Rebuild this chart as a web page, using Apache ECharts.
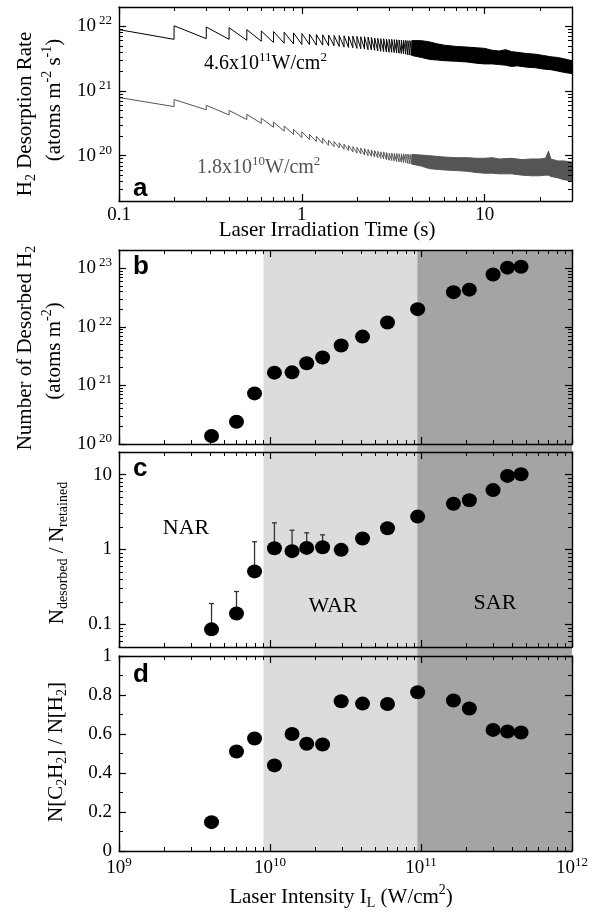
<!DOCTYPE html>
<html>
<head>
<meta charset="utf-8">
<script src="https://cdn.jsdelivr.net/npm/echarts@6.0.0/dist/echarts.min.js"></script>
<style>
html,body{margin:0;padding:0;background:#fff;}
#chart{width:605px;height:913px;}
</style>
</head>
<body>
<div id="chart"></div>
<script>
// ================= DATA =================
// Panel a: H2 desorption rate vs laser irradiation time.
// Rates are stored as log10(atoms m^-2 s^-1).
const aStartTime = 0.1;
const pulseTimes = [0.2,0.3,0.4,0.5,0.6,0.7,0.8,0.9,1.0,1.1,1.2,1.3,1.4,1.5,1.6,1.7,1.8,1.9,2.0,2.1,2.2,2.3,2.4,2.5,2.6,2.7,2.8,2.9,3.0,3.1,3.2,3.3,3.4,3.5,3.6,3.7,3.8,3.9,4.0];

// 4.6x10^11 W/cm^2 (black)
const blackStartLog = 21.95;
const blackTroughLog = [21.80,21.81,21.80,21.785,21.77,21.75,21.74,21.73,21.72,21.72,21.71,21.71,21.70,21.70,21.69,21.68,21.675,21.67,21.66,21.655,21.65,21.64,21.635,21.63,21.62,21.615,21.61,21.605,21.60,21.60,21.595,21.59,21.585,21.58,21.575,21.57,21.56,21.555,21.55];
const blackPeakLog   = [22.01,21.99,21.98,21.95,21.93,21.92,21.91,21.90,21.89,21.88,21.875,21.87,21.865,21.86,21.86,21.855,21.85,21.85,21.845,21.84,21.84,21.835,21.83,21.82,21.815,21.81,21.81,21.805,21.80,21.80,21.795,21.795,21.79,21.79,21.785,21.785,21.78,21.78,21.78];
const blackBandTimes  = [4.0,4.5,5.0,5.5,6.0,7.0,8.0,9.0,10,11,12,13,14,15,17,19,21,23,25,27,30];
const blackBandTopLog = [21.78,21.78,21.76,21.73,21.71,21.69,21.68,21.67,21.66,21.63,21.62,21.64,21.61,21.60,21.58,21.57,21.55,21.53,21.52,21.50,21.47];
const blackBandBotLog = [21.55,21.52,21.49,21.48,21.47,21.46,21.45,21.43,21.42,21.42,21.41,21.40,21.38,21.39,21.37,21.36,21.34,21.33,21.31,21.29,21.27];

// 1.8x10^10 W/cm^2 (gray)
const grayStartLog = 20.90;
const grayTroughLog = [20.76,20.71,20.63,20.56,20.50,20.44,20.38,20.33,20.28,20.25,20.22,20.19,20.16,20.14,20.12,20.10,20.08,20.06,20.04,20.03,20.01,20.00,19.99,19.98,19.97,19.96,19.95,19.94,19.93,19.925,19.92,19.91,19.905,19.90,19.895,19.89,19.88,19.875,19.87];
const grayPeakLog   = [20.87,20.78,20.70,20.64,20.58,20.52,20.46,20.41,20.37,20.33,20.30,20.27,20.24,20.22,20.20,20.18,20.16,20.14,20.13,20.12,20.11,20.10,20.09,20.08,20.07,20.06,20.06,20.05,20.04,20.04,20.035,20.035,20.03,20.03,20.03,20.025,20.025,20.02,20.02];
const grayBandTimes  = [4.0,4.5,5.0,6.0,7.0,8.0,9.0,10,11,12,14,16,18,20,21.5,22.3,23,25,27,30];
const grayBandTopLog = [20.02,20.01,20.00,19.98,19.97,19.97,19.96,19.96,19.97,19.95,19.96,19.94,19.95,19.95,19.96,20.07,19.95,19.92,19.92,19.90];
const grayBandBotLog = [19.87,19.84,19.80,19.78,19.77,19.76,19.74,19.73,19.73,19.72,19.72,19.70,19.69,19.69,19.70,19.70,19.68,19.66,19.63,19.61];

// Panels b-d: laser intensity (W/cm^2)
const intensity = [4.1e9,6.0e9,7.9e9,1.07e10,1.4e10,1.75e10,2.23e10,2.96e10,4.1e10,6.0e10,9.5e10,1.64e11,2.09e11,3.0e11,3.74e11,4.6e11];
// b: number of desorbed H2 (atoms m^-2)
const desorbedH2 = [1.37e20,2.4e20,7.3e20,1.65e21,1.67e21,2.39e21,3.0e21,4.8e21,6.8e21,1.18e22,2.0e22,3.9e22,4.3e22,7.8e22,1.02e23,1.06e23];
// c: N_desorbed / N_retained, with upper error bar ends
const ratioDesRet = [0.086,0.14,0.51,1.04,0.95,1.05,1.07,0.99,1.40,1.92,2.75,4.07,4.55,6.2,9.6,10.1];
const ratioErrTop = [0.19,0.275,1.27,2.27,1.81,1.67,1.57,null,null,null,null,null,null,null,null,null];
// d: N[C2H2] / N[H2]
const ratioC2H2 = [0.148,0.51,0.577,0.439,0.60,0.55,0.546,0.768,0.756,0.754,0.814,0.772,0.731,0.621,0.613,0.608];
// regime boundaries (W/cm^2): WAR and SAR
const regimeRanges = [[9.05e9, 9.45e10], [9.45e10, 1e12]];

// ================= STYLE / HELPERS =================
const SERIF = 'Liberation Serif';
const SANS = 'Liberation Sans';
const shadeColors = ['#dcdcdc', '#a4a4a4'];
const L = Math.log10;

function logMinor(lo, hi) {
  const out = [];
  for (let n = Math.floor(lo) - 1; n <= Math.ceil(hi); n++) {
    for (let k = 2; k <= 9; k++) {
      const v = n + L(k);
      if (v > lo + 1e-6 && v < hi - 1e-6) out.push(v);
    }
  }
  return out;
}
function ints(lo, hi) {
  const o = [];
  for (let n = Math.ceil(lo - 1e-9); n <= Math.floor(hi + 1e-9); n++) o.push(n);
  return o;
}

const xAxes = [], yAxes = [];
function addAxes(list, grid, positions, min, max, major, minor, labelSpec) {
  const first = list.length;
  positions.forEach((pos, pi) => {
    list.push({
      type: 'value', gridIndex: grid, position: pos, min: min, max: max, z: 5,
      axisLine: {show: true, onZero: false, lineStyle: {color: '#000', width: 1.4}},
      axisTick: {show: true, inside: true, length: 7, customValues: major, lineStyle: {color: '#000', width: 1.2}},
      axisLabel: (pi === 0 && labelSpec) ? Object.assign({show: true, customValues: major}, labelSpec) : {show: false},
      splitLine: {show: false}
    });
    list.push({
      type: 'value', gridIndex: grid, position: pos, min: min, max: max, z: 5,
      axisLine: {show: false, onZero: false},
      axisTick: {show: minor.length > 0, inside: true, length: 4, customValues: minor, lineStyle: {color: '#000', width: 1}},
      axisLabel: {show: false},
      splitLine: {show: false}
    });
  });
  return first;
}

const powRichY = {
  b: {fontFamily: SERIF, fontSize: 19, color: '#000', lineHeight: 24, verticalAlign: 'middle'},
  s: {fontFamily: SERIF, fontSize: 13, color: '#000', lineHeight: 12, verticalAlign: 'top', padding: [0, 0, 0, 3]}
};
const powRichX = {
  b: {fontFamily: SERIF, fontSize: 19, color: '#000', lineHeight: 24, verticalAlign: 'middle'},
  s: {fontFamily: SERIF, fontSize: 13, color: '#000', lineHeight: 12, verticalAlign: 'top'}
};
const powFmt = v => '{b|10}{s|' + Math.round(v) + '}';
const plainLbl = {fontFamily: SERIF, fontSize: 19, color: '#000'};

// ---- grids ----
const GL = 119, GW = 453;
const grids = [
  {left: GL, width: GW, top: 7, height: 194},
  {left: GL, width: GW, top: 250, height: 194},
  {left: GL, width: GW, top: 452, height: 195},
  {left: GL, width: GW, top: 656, height: 195},
  {left: GL, width: GW, top: 250, height: 601}
].map(g => Object.assign({outerBoundsMode: 'none', containLabel: false, show: false}, g));

// Panel a axes
const aX = [-1, L(30)], aY = [19.3, 22.3];
const xa = addAxes(xAxes, 0, ['bottom', 'top'], aX[0], aX[1], ints(aX[0], aX[1]), logMinor(aX[0], aX[1]),
  Object.assign({margin: 5, formatter: v => ({'-1': '0.1', '0': '1', '1': '10'})[String(Math.round(v))]}, plainLbl));
const ya = addAxes(yAxes, 0, ['left', 'right'], aY[0], aY[1], ints(aY[0], aY[1]), logMinor(aY[0], aY[1]),
  {margin: 7, formatter: powFmt, rich: powRichY});

// Panels b-d x axes
const iX = [9, 12];
const xb = addAxes(xAxes, 1, ['bottom', 'top'], iX[0], iX[1], ints(9, 12), logMinor(9, 12), null);
const xc = addAxes(xAxes, 2, ['bottom', 'top'], iX[0], iX[1], ints(9, 12), logMinor(9, 12), null);
const xd = addAxes(xAxes, 3, ['bottom', 'top'], iX[0], iX[1], ints(9, 12), logMinor(9, 12),
  {margin: 5, formatter: powFmt, rich: powRichX});

const bY = [20, 23.31];
const yb = addAxes(yAxes, 1, ['left', 'right'], bY[0], bY[1], ints(bY[0], bY[1]), logMinor(bY[0], bY[1]),
  {margin: 7, formatter: powFmt, rich: powRichY});
const cY = [L(0.05), L(20)];
const yc = addAxes(yAxes, 2, ['left', 'right'], cY[0], cY[1], ints(cY[0], cY[1]), logMinor(cY[0], cY[1]),
  Object.assign({margin: 7, formatter: v => ({'-1': '0.1', '0': '1', '1': '10'})[String(Math.round(v))]}, plainLbl));
const yd = addAxes(yAxes, 3, ['left', 'right'], 0, 1, [0, 0.2, 0.4, 0.6, 0.8, 1], [0.1, 0.3, 0.5, 0.7, 0.9],
  Object.assign({margin: 7, formatter: v => String(Math.round(v * 10) / 10)}, plainLbl));

// shading grid axes (hidden)
const xs = xAxes.length;
xAxes.push({type: 'value', gridIndex: 4, min: 9, max: 12, show: false, axisLine: {onZero: false}});
const ys = yAxes.length;
yAxes.push({type: 'value', gridIndex: 4, min: 0, max: 1, show: false, axisLine: {onZero: false}});

// ---- series ----
function teeth(startLog, troughs, peaks) {
  const d = [[L(aStartTime), startLog]];
  pulseTimes.forEach((t, i) => {
    d.push([L(t), troughs[i]]);
    d.push([L(t), peaks[i]]);
  });
  return d;
}
function bandSeries(times, top, bot, color) {
  const pts = times.map((t, i) => [L(t), top[i], bot[i]]);
  return {
    type: 'custom', xAxisIndex: xa, yAxisIndex: ya, data: pts, encode: {x: 0, y: [1, 2]},
    z: 3, silent: true, clip: true,
    renderItem: (params, api) => {
      if (params.dataIndex !== 0) return null;
      const up = pts.map(p => api.coord([p[0], p[1]]));
      const dn = pts.map(p => api.coord([p[0], p[2]])).reverse();
      return {type: 'polygon', shape: {points: up.concat(dn)}, style: {fill: color, stroke: color, lineWidth: 1}};
    }
  };
}
const scatterStyle = {
  type: 'scatter', symbol: 'circle', symbolSize: [15, 14], itemStyle: {color: '#000', opacity: 1}, z: 4, silent: true
};

const series = [
  // regime shading
  {
    type: 'custom', xAxisIndex: xs, yAxisIndex: ys, z: 0, silent: true,
    data: regimeRanges.map(r => [L(r[0]), L(r[1]), 0, 1]),
    encode: {x: [0, 1], y: [2, 3]},
    renderItem: (params, api) => {
      const a = api.coord([api.value(0), api.value(3)]);
      const b = api.coord([api.value(1), api.value(2)]);
      return {type: 'rect', shape: {x: a[0], y: a[1], width: b[0] - a[0], height: b[1] - a[1]},
        style: {fill: shadeColors[params.dataIndex]}};
    }
  },
  // panel a
  {type: 'line', xAxisIndex: xa, yAxisIndex: ya, data: teeth(blackStartLog, blackTroughLog, blackPeakLog),
    symbol: 'none', lineStyle: {color: '#000', width: 1}, z: 3, silent: true},
  bandSeries(blackBandTimes, blackBandTopLog, blackBandBotLog, '#000'),
  {type: 'line', xAxisIndex: xa, yAxisIndex: ya, data: teeth(grayStartLog, grayTroughLog, grayPeakLog),
    symbol: 'none', lineStyle: {color: '#555', width: 1}, z: 3, silent: true},
  bandSeries(grayBandTimes, grayBandTopLog, grayBandBotLog, '#555'),
  // panel b
  Object.assign({xAxisIndex: xb, yAxisIndex: yb, data: intensity.map((x, i) => [L(x), L(desorbedH2[i])])}, scatterStyle),
  // panel c error bars
  {
    type: 'custom', xAxisIndex: xc, yAxisIndex: yc, z: 3, silent: true,
    data: intensity.map((x, i) => [L(x), L(ratioDesRet[i]), ratioErrTop[i] == null ? L(ratioDesRet[i]) : L(ratioErrTop[i])]),
    encode: {x: 0, y: [1, 2]},
    renderItem: (params, api) => {
      const p0 = api.coord([api.value(0), api.value(1)]);
      const p1 = api.coord([api.value(0), api.value(2)]);
      if (Math.abs(p1[1] - p0[1]) < 1) return null;
      return {type: 'group', children: [
        {type: 'line', shape: {x1: p0[0], y1: p0[1], x2: p1[0], y2: p1[1]}, style: {stroke: '#333', lineWidth: 1.3}},
        {type: 'line', shape: {x1: p1[0] - 2.5, y1: p1[1], x2: p1[0] + 2.5, y2: p1[1]}, style: {stroke: '#333', lineWidth: 1.3}}
      ]};
    }
  },
  Object.assign({xAxisIndex: xc, yAxisIndex: yc, data: intensity.map((x, i) => [L(x), L(ratioDesRet[i])])}, scatterStyle),
  // panel d
  Object.assign({xAxisIndex: xd, yAxisIndex: yd, data: intensity.map((x, i) => [L(x), ratioC2H2[i]])}, scatterStyle)
];

// ---- texts ----
function richSerif(size, color) {
  const sub = Math.round(size * 0.66);
  return {
    n: {fontFamily: SERIF, fontSize: size, fill: color, lineHeight: size + 6, verticalAlign: 'middle'},
    s: {fontFamily: SERIF, fontSize: sub, fill: color, lineHeight: sub, verticalAlign: 'bottom'},
    p: {fontFamily: SERIF, fontSize: sub, fill: color, lineHeight: sub, verticalAlign: 'top'}
  };
}
function T(x, y, text, size, opt) {
  opt = opt || {};
  const color = opt.color || '#000';
  return {
    type: 'text', x: x, y: y, rotation: opt.rot || 0, z: 100, silent: true,
    style: {
      text: text, fontFamily: opt.family || SERIF, fontSize: size, fontWeight: opt.weight || 'normal',
      fill: color, align: opt.align || 'center', verticalAlign: 'middle',
      rich: opt.plain ? undefined : richSerif(size, color)
    }
  };
}
const R90 = Math.PI / 2;
const graphic = [
  // panel letters
  T(133, 189, 'a', 26, {family: SANS, weight: 'bold', align: 'left', plain: true}),
  T(133, 267, 'b', 26, {family: SANS, weight: 'bold', align: 'left', plain: true}),
  T(133, 469, 'c', 26, {family: SANS, weight: 'bold', align: 'left', plain: true}),
  T(133, 675, 'd', 26, {family: SANS, weight: 'bold', align: 'left', plain: true}),
  // panel a annotations
  T(204, 64, '{n|4.6x10}{p|11}{n|W/cm}{p|2}', 20, {align: 'left'}),
  T(197, 168, '{n|1.8x10}{p|10}{n|W/cm}{p|2}', 20, {align: 'left', color: '#555'}),
  // regimes
  T(186, 528, '{n|NAR}', 22),
  T(333, 606, '{n|WAR}', 22),
  T(495, 603, '{n|SAR}', 22),
  // axis titles
  T(327, 230, '{n|Laser Irradiation Time (s)}', 21),
  T(341, 897, '{n|Laser Intensity I}{s|L}{n| (W/cm}{p|2}{n|)}', 21),
  T(25, 114, '{n|H}{s|2}{n| Desorption Rate}', 21, {rot: R90}),
  T(54, 100, '{n|(atoms m}{p|-2}{n| s}{p|-1}{n|)}', 21, {rot: R90}),
  T(25, 348, '{n|Number of Desorbed H}{s|2}', 21, {rot: R90}),
  T(54, 351, '{n|(atoms m}{p|-2}{n|)}', 21, {rot: R90}),
  T(57, 553, '{n|N}{s|desorbed}{n| / N}{s|retained}', 21, {rot: R90}),
  T(56, 752, '{n|N[C}{s|2}{n|H}{s|2}{n|] / N[H}{s|2}{n|]}', 21, {rot: R90})
];

const chart = echarts.init(document.getElementById('chart'), null, {renderer: 'canvas'});
chart.setOption({
  animation: false,
  backgroundColor: '#fff',
  grid: grids,
  xAxis: xAxes,
  yAxis: yAxes,
  series: series,
  graphic: graphic
});
</script>
</body>
</html>
